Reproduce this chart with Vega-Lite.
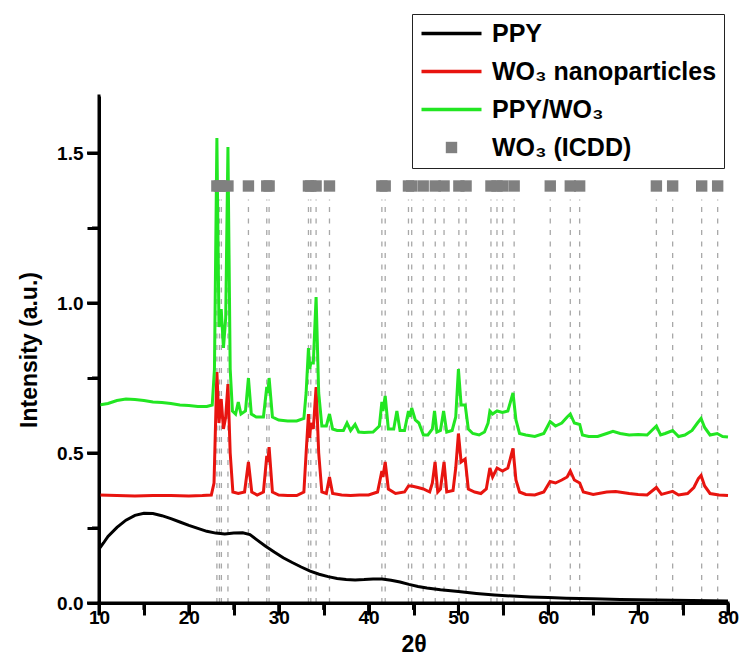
{
  "$schema": "https://vega.github.io/schema/vega-lite/v6.json",
  "width": 629,
  "height": 507,
  "autosize": "none",
  "padding": {"left": 99, "top": 96, "right": 14, "bottom": 59},
  "background": "white",
  "config": {
    "view": {"stroke": null},
    "font": "Liberation Sans"
  },
  "datasets": {
    "ppy": [
      {"x":10,"y":0.18},{"x":10.5,"y":0.2},{"x":11,"y":0.222},{"x":12,"y":0.252},{"x":13,"y":0.276},{"x":14,"y":0.292},{"x":15,"y":0.299},{"x":16,"y":0.298},{"x":17,"y":0.291},{"x":18,"y":0.281},{"x":19,"y":0.27},{"x":20,"y":0.259},{"x":21,"y":0.249},{"x":22,"y":0.239},{"x":23,"y":0.233},{"x":24,"y":0.23},{"x":25,"y":0.233},{"x":26,"y":0.234},{"x":26.8,"y":0.228},{"x":27.5,"y":0.212},{"x":28.5,"y":0.19},{"x":29.5,"y":0.17},{"x":30.5,"y":0.151},{"x":31.5,"y":0.135},{"x":32.5,"y":0.12},{"x":33.5,"y":0.106},{"x":34.5,"y":0.096},{"x":35.5,"y":0.088},{"x":36.5,"y":0.082},{"x":37.5,"y":0.078},{"x":38.5,"y":0.077},{"x":39.5,"y":0.078},{"x":40.5,"y":0.08},{"x":41.5,"y":0.08},{"x":42.5,"y":0.076},{"x":43.5,"y":0.07},{"x":44.5,"y":0.062},{"x":45.5,"y":0.055},{"x":46.5,"y":0.05},{"x":48,"y":0.044},{"x":50,"y":0.038},{"x":52,"y":0.032},{"x":54,"y":0.027},{"x":56,"y":0.023},{"x":58,"y":0.02},{"x":60,"y":0.018},{"x":62,"y":0.016},{"x":65,"y":0.014},{"x":68,"y":0.012},{"x":72,"y":0.01},{"x":76,"y":0.008},{"x":80,"y":0.007}
    ],
    "wo3": [
      {"x":10,"y":0.36},{"x":12,"y":0.358},{"x":14,"y":0.357},{"x":16,"y":0.358},{"x":18,"y":0.358},{"x":20,"y":0.357},{"x":21.5,"y":0.358},{"x":22.5,"y":0.36},{"x":22.8,"y":0.4},{"x":23.12,"y":0.77},{"x":23.35,"y":0.6},{"x":23.6,"y":0.68},{"x":23.85,"y":0.58},{"x":24.1,"y":0.62},{"x":24.35,"y":0.73},{"x":24.6,"y":0.5},{"x":24.9,"y":0.37},{"x":25.5,"y":0.365},{"x":26.2,"y":0.37},{"x":26.63,"y":0.47},{"x":27,"y":0.37},{"x":27.6,"y":0.36},{"x":28.3,"y":0.37},{"x":28.67,"y":0.49},{"x":28.8,"y":0.47},{"x":28.93,"y":0.52},{"x":29.3,"y":0.37},{"x":30,"y":0.36},{"x":31,"y":0.358},{"x":32,"y":0.358},{"x":32.8,"y":0.37},{"x":33.05,"y":0.5},{"x":33.31,"y":0.63},{"x":33.45,"y":0.55},{"x":33.57,"y":0.6},{"x":33.85,"y":0.58},{"x":34.16,"y":0.72},{"x":34.45,"y":0.5},{"x":34.8,"y":0.37},{"x":35.3,"y":0.365},{"x":35.65,"y":0.42},{"x":36,"y":0.365},{"x":37,"y":0.36},{"x":38,"y":0.358},{"x":39,"y":0.36},{"x":40,"y":0.36},{"x":41,"y":0.37},{"x":41.48,"y":0.44},{"x":41.6,"y":0.42},{"x":41.85,"y":0.47},{"x":42.2,"y":0.38},{"x":43,"y":0.365},{"x":44,"y":0.37},{"x":44.44,"y":0.39},{"x":44.8,"y":0.39},{"x":45.5,"y":0.385},{"x":46.1,"y":0.38},{"x":46.8,"y":0.37},{"x":47.1,"y":0.4},{"x":47.4,"y":0.47},{"x":47.7,"y":0.37},{"x":48,"y":0.38},{"x":48.4,"y":0.47},{"x":48.7,"y":0.37},{"x":49.4,"y":0.375},{"x":49.7,"y":0.45},{"x":50,"y":0.565},{"x":50.3,"y":0.47},{"x":50.75,"y":0.48},{"x":51.1,"y":0.38},{"x":51.8,"y":0.37},{"x":52.5,"y":0.365},{"x":53.1,"y":0.38},{"x":53.5,"y":0.45},{"x":53.8,"y":0.42},{"x":54.3,"y":0.45},{"x":54.9,"y":0.44},{"x":55.5,"y":0.45},{"x":56.07,"y":0.515},{"x":56.4,"y":0.41},{"x":56.8,"y":0.37},{"x":57.5,"y":0.362},{"x":58.5,"y":0.36},{"x":59.5,"y":0.37},{"x":60.2,"y":0.405},{"x":60.8,"y":0.4},{"x":61.5,"y":0.41},{"x":62.1,"y":0.42},{"x":62.45,"y":0.44},{"x":62.9,"y":0.41},{"x":63.5,"y":0.4},{"x":63.9,"y":0.37},{"x":65,"y":0.362},{"x":66.5,"y":0.37},{"x":67.5,"y":0.372},{"x":69,"y":0.365},{"x":70,"y":0.362},{"x":71,"y":0.36},{"x":72.03,"y":0.385},{"x":72.6,"y":0.362},{"x":73.84,"y":0.372},{"x":74.5,"y":0.36},{"x":75.5,"y":0.365},{"x":76.2,"y":0.385},{"x":76.7,"y":0.415},{"x":77,"y":0.425},{"x":77.4,"y":0.39},{"x":78,"y":0.365},{"x":79,"y":0.36},{"x":80,"y":0.358}
    ],
    "comp": [
      {"x":10,"y":0.66},{"x":11,"y":0.665},{"x":12,"y":0.675},{"x":13,"y":0.68},{"x":14,"y":0.678},{"x":15,"y":0.675},{"x":16,"y":0.67},{"x":17,"y":0.668},{"x":18,"y":0.665},{"x":19,"y":0.66},{"x":20,"y":0.658},{"x":21,"y":0.655},{"x":22,"y":0.655},{"x":22.6,"y":0.66},{"x":22.85,"y":0.78},{"x":23.12,"y":1.55},{"x":23.35,"y":0.92},{"x":23.6,"y":0.98},{"x":23.85,"y":0.85},{"x":24.1,"y":0.95},{"x":24.35,"y":1.52},{"x":24.6,"y":0.78},{"x":24.85,"y":0.64},{"x":25.2,"y":0.63},{"x":25.5,"y":0.67},{"x":25.8,"y":0.63},{"x":26.3,"y":0.64},{"x":26.63,"y":0.75},{"x":26.95,"y":0.63},{"x":27.5,"y":0.62},{"x":28.3,"y":0.62},{"x":28.67,"y":0.72},{"x":28.8,"y":0.7},{"x":28.93,"y":0.75},{"x":29.3,"y":0.62},{"x":30,"y":0.61},{"x":31,"y":0.607},{"x":32,"y":0.607},{"x":32.8,"y":0.615},{"x":33.05,"y":0.7},{"x":33.31,"y":0.85},{"x":33.45,"y":0.78},{"x":33.57,"y":0.8},{"x":33.85,"y":0.8},{"x":34.16,"y":1.02},{"x":34.45,"y":0.7},{"x":34.8,"y":0.59},{"x":35.3,"y":0.59},{"x":35.65,"y":0.63},{"x":36,"y":0.58},{"x":36.5,"y":0.575},{"x":37.2,"y":0.575},{"x":37.6,"y":0.6},{"x":38,"y":0.575},{"x":38.5,"y":0.595},{"x":38.9,"y":0.57},{"x":39.5,"y":0.568},{"x":40.5,"y":0.57},{"x":41.2,"y":0.59},{"x":41.48,"y":0.67},{"x":41.6,"y":0.64},{"x":41.85,"y":0.69},{"x":42.2,"y":0.58},{"x":42.8,"y":0.58},{"x":43.15,"y":0.64},{"x":43.5,"y":0.575},{"x":44,"y":0.575},{"x":44.44,"y":0.64},{"x":44.6,"y":0.62},{"x":44.8,"y":0.65},{"x":45.2,"y":0.61},{"x":45.6,"y":0.6},{"x":46.1,"y":0.56},{"x":46.6,"y":0.56},{"x":47.1,"y":0.58},{"x":47.34,"y":0.64},{"x":47.6,"y":0.57},{"x":48,"y":0.575},{"x":48.35,"y":0.64},{"x":48.7,"y":0.57},{"x":49.3,"y":0.575},{"x":49.7,"y":0.62},{"x":50,"y":0.78},{"x":50.3,"y":0.66},{"x":50.75,"y":0.66},{"x":51.1,"y":0.58},{"x":51.6,"y":0.565},{"x":52.3,"y":0.56},{"x":52.9,"y":0.57},{"x":53.3,"y":0.6},{"x":53.5,"y":0.64},{"x":53.8,"y":0.63},{"x":54.3,"y":0.64},{"x":54.9,"y":0.635},{"x":55.5,"y":0.64},{"x":56.07,"y":0.7},{"x":56.4,"y":0.61},{"x":56.8,"y":0.565},{"x":57.5,"y":0.56},{"x":58.5,"y":0.555},{"x":59.5,"y":0.565},{"x":60.2,"y":0.605},{"x":60.8,"y":0.59},{"x":61.5,"y":0.6},{"x":62.1,"y":0.62},{"x":62.45,"y":0.63},{"x":62.9,"y":0.6},{"x":63.5,"y":0.595},{"x":63.8,"y":0.56},{"x":64.5,"y":0.555},{"x":65.5,"y":0.555},{"x":66.5,"y":0.565},{"x":67.2,"y":0.572},{"x":68,"y":0.565},{"x":69,"y":0.56},{"x":70,"y":0.562},{"x":71,"y":0.56},{"x":72.03,"y":0.59},{"x":72.5,"y":0.56},{"x":73,"y":0.565},{"x":73.84,"y":0.575},{"x":74.5,"y":0.555},{"x":75.2,"y":0.56},{"x":76,"y":0.575},{"x":76.6,"y":0.6},{"x":77,"y":0.615},{"x":77.4,"y":0.585},{"x":78,"y":0.56},{"x":78.8,"y":0.565},{"x":79.4,"y":0.555},{"x":80,"y":0.553}
    ],
    "icdd": [
      {"p":23.12,"s":"WO₃ (ICDD)"},{"p":23.4,"s":"WO₃ (ICDD)"},{"p":23.62,"s":"WO₃ (ICDD)"},{"p":24.35,"s":"WO₃ (ICDD)"},{"p":26.63,"s":"WO₃ (ICDD)"},{"p":28.67,"s":"WO₃ (ICDD)"},{"p":28.93,"s":"WO₃ (ICDD)"},{"p":33.31,"s":"WO₃ (ICDD)"},{"p":33.57,"s":"WO₃ (ICDD)"},{"p":34.16,"s":"WO₃ (ICDD)"},{"p":35.65,"s":"WO₃ (ICDD)"},{"p":41.48,"s":"WO₃ (ICDD)"},{"p":41.85,"s":"WO₃ (ICDD)"},{"p":44.44,"s":"WO₃ (ICDD)"},{"p":44.8,"s":"WO₃ (ICDD)"},{"p":46.08,"s":"WO₃ (ICDD)"},{"p":47.42,"s":"WO₃ (ICDD)"},{"p":48.4,"s":"WO₃ (ICDD)"},{"p":50.05,"s":"WO₃ (ICDD)"},{"p":50.85,"s":"WO₃ (ICDD)"},{"p":53.62,"s":"WO₃ (ICDD)"},{"p":54.29,"s":"WO₃ (ICDD)"},{"p":54.93,"s":"WO₃ (ICDD)"},{"p":56.2,"s":"WO₃ (ICDD)"},{"p":60.22,"s":"WO₃ (ICDD)"},{"p":62.45,"s":"WO₃ (ICDD)"},{"p":63.49,"s":"WO₃ (ICDD)"},{"p":72.03,"s":"WO₃ (ICDD)"},{"p":73.84,"s":"WO₃ (ICDD)"},{"p":77.07,"s":"WO₃ (ICDD)"},{"p":78.85,"s":"WO₃ (ICDD)"}
    ],
    "xmajor": [{"p":10},{"p":20},{"p":30},{"p":40},{"p":50},{"p":60},{"p":70},{"p":80}],
    "xminor": [{"p":15},{"p":25},{"p":35},{"p":45},{"p":55},{"p":65},{"p":75}],
    "ymajor": [{"v":0},{"v":0.5},{"v":1},{"v":1.5}],
    "yminor": [{"v":0.25},{"v":0.75},{"v":1.25}]
  },
  "layer": [
    {
      "data": {"name": "icdd"},
      "mark": {"type": "rule", "color": "#a8a8a8", "strokeWidth": 1.3, "strokeDash": [5, 6.5]},
      "encoding": {
        "x": {"field": "p", "type": "quantitative", "scale": {"domain": [10, 80], "nice": false, "zero": false},
              "axis": {"orient": "bottom", "values": [10,15,20,25,30,35,40,45,50,55,60,65,70,75,80],
                       "labelExpr": "datum.value % 10 === 0 ? datum.label : ''",
                       "tickSize": 12, "tickColor": "black", "tickWidth": 3, "ticks": true,
                       "domain": true, "domainWidth": 3, "domainColor": "black", "gridOpacity": 0,
                       "labelFont": "Liberation Sans", "labelFontWeight": "bold", "labelFontSize": 19, "labelColor": "black", "labelPadding": -7, "labelFlush": false, "labelOverlap": false,
                       "title": "2θ", "titleFont": "Liberation Sans", "titleFontWeight": "bold", "titleFontSize": 23, "titleColor": "black", "titlePadding": 6}},
        "y": {"datum": 0, "type": "quantitative", "scale": {"domain": [0, 1.69], "nice": false, "zero": false},
              "axis": {"orient": "left", "values": [0, 0.25, 0.5, 0.75, 1, 1.25, 1.5],
                       "labelExpr": "round(datum.value * 4) % 2 === 0 ? format(datum.value, '.1f') : ''",
                       "tickSize": 12, "tickColor": "black", "tickWidth": 3, "ticks": true,
                       "domain": true, "domainWidth": 3, "domainColor": "black", "gridOpacity": 0,
                       "labelFont": "Liberation Sans", "labelFontWeight": "bold", "labelFontSize": 19, "labelColor": "black", "labelPadding": 4, "labelFlush": false, "labelOverlap": false,
                       "title": "Intensity (a.u.)", "titleFont": "Liberation Sans", "titleFontWeight": "bold", "titleFontSize": 23, "titleColor": "black", "titlePadding": 15}},
        "y2": {"datum": 1.345}
      }
    },
    {
      "data": {"name": "ppy"},
      "mark": {"type": "line", "color": "#000000", "strokeWidth": 3},
      "encoding": {
        "x": {"field": "x", "type": "quantitative"},
        "y": {"field": "y", "type": "quantitative"}
      }
    },
    {
      "data": {"name": "wo3"},
      "mark": {"type": "line", "color": "#e8140f", "strokeWidth": 3},
      "encoding": {
        "x": {"field": "x", "type": "quantitative"},
        "y": {"field": "y", "type": "quantitative"}
      }
    },
    {
      "data": {"name": "comp"},
      "mark": {"type": "line", "color": "#22e622", "strokeWidth": 3},
      "encoding": {
        "x": {"field": "x", "type": "quantitative"},
        "y": {"field": "y", "type": "quantitative"}
      }
    },
    {
      "data": {"name": "icdd"},
      "mark": {"type": "point", "shape": "square", "filled": true, "size": 130, "opacity": 1, "strokeWidth": 0, "color": "#808080"},
      "encoding": {
        "x": {"field": "p", "type": "quantitative"},
        "y": {"datum": 1.39, "type": "quantitative"}
      }
    },
    {
      "data": {"name": "xmajor"},
      "mark": {"type": "rule", "color": "black", "strokeWidth": 3},
      "encoding": {
        "x": {"field": "p", "type": "quantitative"},
        "y": {"datum": 0, "type": "quantitative"},
        "y2": {"datum": -0.04}
      }
    },
    {
      "data": {"name": "xminor"},
      "mark": {"type": "rule", "color": "black", "strokeWidth": 3},
      "encoding": {
        "x": {"field": "p", "type": "quantitative"},
        "y": {"datum": 0, "type": "quantitative"},
        "y2": {"datum": -0.023}
      }
    },
    {
      "data": {"name": "ymajor"},
      "mark": {"type": "rule", "color": "black", "strokeWidth": 3},
      "encoding": {
        "y": {"field": "v", "type": "quantitative"},
        "x": {"datum": 10, "type": "quantitative"},
        "x2": {"datum": 8.665}
      }
    },
    {
      "data": {"name": "yminor"},
      "mark": {"type": "rule", "color": "black", "strokeWidth": 3},
      "encoding": {
        "y": {"field": "v", "type": "quantitative"},
        "x": {"datum": 10, "type": "quantitative"},
        "x2": {"datum": 9.22}
      }
    },
    {
      "data": {"name": "xmajor"},
      "transform": [{"filter": "datum.p === 10"}],
      "mark": {"type": "rule", "color": "black", "strokeWidth": 3, "strokeCap": "square"},
      "encoding": {
        "x": {"field": "p", "type": "quantitative"},
        "y": {"datum": 0, "type": "quantitative"},
        "y2": {"datum": 1.69}
      }
    },
    {
      "data": {"name": "ymajor"},
      "transform": [{"filter": "datum.v === 0"}],
      "mark": {"type": "rule", "color": "black", "strokeWidth": 3, "strokeCap": "square"},
      "encoding": {
        "y": {"field": "v", "type": "quantitative"},
        "x": {"datum": 10, "type": "quantitative"},
        "x2": {"datum": 80}
      }
    },
    {
      "data": {"name": "icdd"},
      "mark": {"type": "point", "filled": true, "size": 400, "opacity": 1, "strokeWidth": 0, "clip": true},
      "encoding": {
        "x": {"field": "p", "type": "quantitative"},
        "y": {"datum": -1, "type": "quantitative"},
        "color": {"field": "s", "type": "nominal",
                  "scale": {"domain": ["PPY", "WO₃ nanoparticles", "PPY/WO₃", "WO₃ (ICDD)"], "range": ["#000000", "#e8140f", "#22e622", "#808080"]},
                  "legend": {"orient": "none", "legendX": 313, "legendY": -82, "title": null, "strokeColor": "#222222", "fillColor": "white",
                             "padding": 7, "labelFont": "Liberation Sans", "labelFontSize": 25, "labelFontWeight": "bold", "labelColor": "black",
                             "symbolSize": 400, "rowPadding": 12, "labelOffset": 48, "symbolOpacity": 1, "symbolStrokeWidth": 0, "labelLimit": 400}},
        "shape": {"field": "s", "type": "nominal",
                  "scale": {"domain": ["PPY", "WO₃ nanoparticles", "PPY/WO₃", "WO₃ (ICDD)"],
                            "range": ["M-1,-0.18H5V0.18H-1Z", "M-1,-0.18H5V0.18H-1Z", "M-1,-0.18H5V0.18H-1Z", "M1.43,-0.57H2.57V0.57H1.43Z"]}}
      }
    }
  ]
}
